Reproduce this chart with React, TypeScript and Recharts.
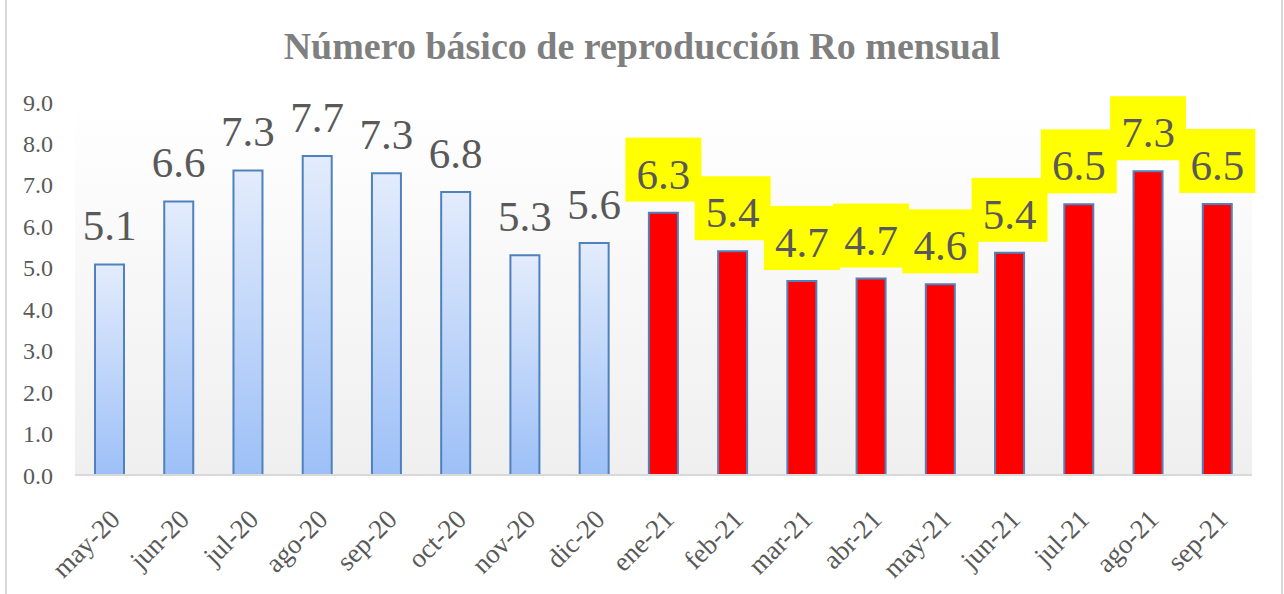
import React from 'react';
import { BarChart, Bar, XAxis, YAxis, CartesianGrid, Cell, LabelList } from 'recharts';

const months = [
  'may-20', 'jun-20', 'jul-20', 'ago-20', 'sep-20', 'oct-20', 'nov-20', 'dic-20',
  'ene-21', 'feb-21', 'mar-21', 'abr-21', 'may-21', 'jun-21', 'jul-21', 'ago-21', 'sep-21',
];
const roValues = [5.08, 6.6, 7.35, 7.7, 7.28, 6.83, 5.3, 5.6, 6.33, 5.4, 4.68, 4.74, 4.6, 5.36, 6.53, 7.33, 6.54];
const yTicks = [0, 1, 2, 3, 4, 5, 6, 7, 8, 9];

const data = months.map((month, i) => ({ month, ro: roValues[i] }));

const TEXT = '#595959';
const SERIF = '"Liberation Serif", "Times New Roman", serif';

const is2021 = (m: string) => m.endsWith('-21');

const XTick = ({ x, y, payload }: any) => (
  <g transform={`translate(${x + 12},${y + 38})`}>
    <text textAnchor="end" transform="rotate(-45)" fill={TEXT} fontFamily={SERIF} fontSize={27}>
      {payload.value}
    </text>
  </g>
);

const RoLabel = (props: any) => {
  const { x, y, width, value, index } = props;
  const cx = x + width / 2;
  const highlight = is2021(months[index]);
  return (
    <g>
      {highlight && <rect x={cx - 38} y={y - 75} width={76} height={64} fill="#ffff00" />}
      <text x={cx} y={y - 24} textAnchor="middle" fill={TEXT} fontFamily={SERIF} fontSize={43}>
        {Number(value).toFixed(1)}
      </text>
    </g>
  );
};

const App: React.FC = () => {
  return (
    <div style={{ position: 'absolute', left: 0, top: 0, width: 1284, height: 594, background: '#fff' }}>
      <div
        style={{
          position: 'absolute', left: 5, top: 0, width: 1274, height: 594,
          borderLeft: '2px solid #d9d9d9', borderRight: '2px solid #d9d9d9',
        }}
      />
      <div
        style={{
          position: 'absolute', left: 0, top: 24, width: 1284, textAlign: 'center',
          fontFamily: SERIF, fontWeight: 'bold', fontSize: 38, color: '#7f7f7f',
        }}
      >
        Número básico de reproducción Ro mensual
      </div>
      <BarChart
        width={1284}
        height={594}
        data={data}
        margin={{ top: 102, right: 32, bottom: 0, left: 0 }}
        style={{ position: 'absolute', left: 0, top: 0 }}
      >
        <defs>
          <linearGradient id="plotBg" x1="0" y1="0" x2="0" y2="1">
            <stop offset="0%" stopColor="#ffffff" />
            <stop offset="100%" stopColor="#efefef" />
          </linearGradient>
          <linearGradient id="blueBar" x1="0" y1="0" x2="0" y2="1">
            <stop offset="0%" stopColor="#e3ecfc" />
            <stop offset="100%" stopColor="#9dc0f7" />
          </linearGradient>
        </defs>
        <CartesianGrid horizontal={false} vertical={false} fill="url(#plotBg)" stroke="none" />
        <XAxis
          dataKey="month"
          interval={0}
          tickLine={false}
          axisLine={{ stroke: '#d9d9d9', strokeWidth: 2 }}
          tick={<XTick />}
          height={119}
        />
        <YAxis
          domain={[0, 9]}
          ticks={yTicks}
          interval={0}
          width={75}
          axisLine={false}
          tickLine={false}
          tickSize={0}
          tickMargin={22}
          tickFormatter={(v: number) => v.toFixed(1)}
          tick={{ fill: TEXT, fontFamily: SERIF, fontSize: 24 }}
        />
        <Bar dataKey="ro" barSize={29} stroke="#4f81bd" strokeWidth={2} isAnimationActive={false}>
          {data.map((d) => (
            <Cell key={d.month} fill={is2021(d.month) ? '#ff0000' : 'url(#blueBar)'} />
          ))}
          <LabelList dataKey="ro" content={<RoLabel />} />
        </Bar>
      </BarChart>
    </div>
  );
};

export default App;
